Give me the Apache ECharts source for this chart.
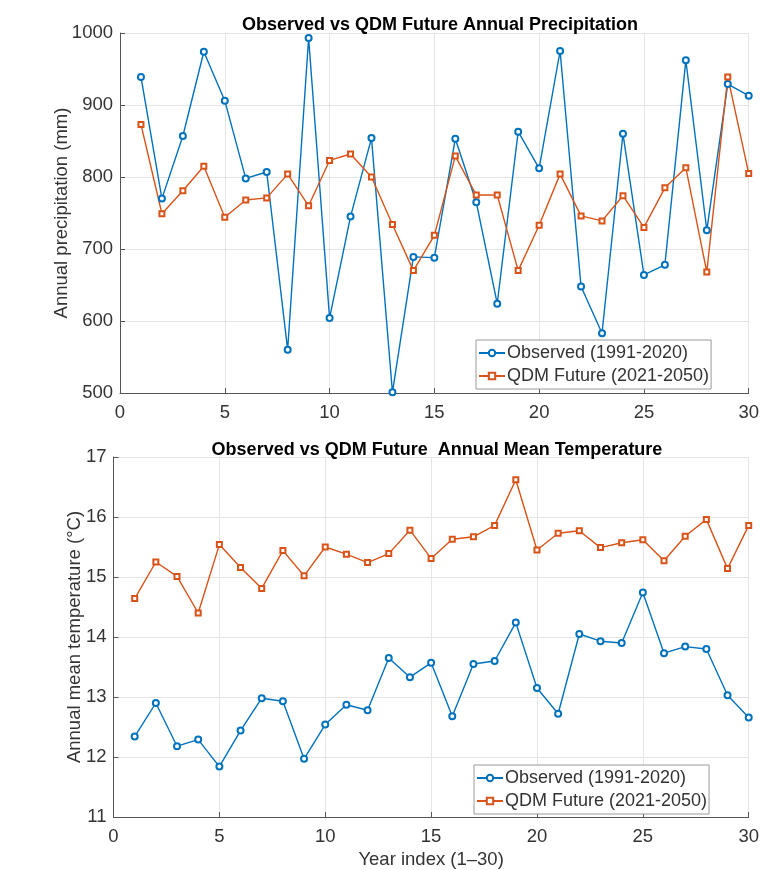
<!DOCTYPE html>
<html>
<head>
<meta charset="utf-8">
<script src="https://cdn.jsdelivr.net/npm/echarts@6/dist/echarts.min.js"></script>
<style>
  html, body { margin: 0; padding: 0; background: #fff; }
  #chart { width: 762px; height: 870px; }
</style>
</head>
<body>
<div id="chart"></div>
<script>
// Year index 1..30
const years = [1,2,3,4,5,6,7,8,9,10,11,12,13,14,15,16,17,18,19,20,21,22,23,24,25,26,27,28,29,30];

// Annual precipitation (mm)
const precipObserved = [939,770,857,974,906,798,807,560,993,604,745,854,501,689,688,853,765,624,863,812,975,648,583,860,664,678,962,726,929,913];
const precipFuture = [873,749,781,815,744,768,771,804,760,823,832,800,734,670,719,829,775,775,670,733,804,746,739,774,730,785,813,668,939,805];

// Annual mean temperature (°C)
const tempObserved = [12.34,12.90,12.18,12.29,11.84,12.44,12.98,12.93,11.97,12.54,12.87,12.78,13.65,13.33,13.57,12.68,13.55,13.60,14.24,13.15,12.72,14.05,13.93,13.90,14.74,13.73,13.84,13.80,13.03,12.66];
const tempFuture = [14.64,15.25,15.01,14.40,15.54,15.16,14.81,15.44,15.02,15.50,15.38,15.24,15.39,15.78,15.31,15.63,15.67,15.86,16.62,15.45,15.73,15.77,15.49,15.57,15.62,15.27,15.68,15.96,15.14,15.86];

const xTicks = { min: 0, max: 30, interval: 5 };
const precipTicks = { min: 500, max: 1000, interval: 100 };
const tempTicks = { min: 11, max: 17, interval: 1 };

const nameObs = 'Observed (1991-2020)';
const nameFut = 'QDM Future (2021-2050)';

const BLUE = '#0072BD';
const ORANGE = '#D95319';
const FONT = '"Liberation Sans", Arial, Helvetica, sans-serif';
const AXIS_COLOR = '#555555';
const TEXT_COLOR = '#333333';

const pairs = (ys) => years.map((x, i) => [x, ys[i]]);
const plainNumber = (v) => String(v);

function xAxisCfg(gridIndex, name) {
  return {
    type: 'value', gridIndex,
    min: xTicks.min, max: xTicks.max, interval: xTicks.interval,
    name: name || '', nameLocation: 'middle', nameGap: 33, nameMoveOverlap: false,
    nameTextStyle: { fontFamily: FONT, fontSize: 18.5, color: TEXT_COLOR },
    axisLine: { show: true, onZero: false, lineStyle: { color: AXIS_COLOR, width: 1 } },
    axisTick: { show: true, inside: true, length: 5, lineStyle: { color: AXIS_COLOR } },
    axisLabel: { fontFamily: FONT, fontSize: 18.5, color: TEXT_COLOR, margin: 10, formatter: plainNumber },
    splitLine: { show: true, lineStyle: { color: '#e4e4e4', width: 1 } }
  };
}

function yAxisCfg(gridIndex, ticks, name, gap) {
  return {
    type: 'value', gridIndex,
    min: ticks.min, max: ticks.max, interval: ticks.interval,
    name, nameLocation: 'middle', nameGap: gap, nameMoveOverlap: false,
    nameTextStyle: { fontFamily: FONT, fontSize: 18.5, color: TEXT_COLOR },
    axisLine: { show: true, onZero: false, lineStyle: { color: AXIS_COLOR, width: 1 } },
    axisTick: { show: true, inside: true, length: 5, lineStyle: { color: AXIS_COLOR } },
    axisLabel: { fontFamily: FONT, fontSize: 18.5, color: TEXT_COLOR, margin: 7, formatter: plainNumber },
    splitLine: { show: true, lineStyle: { color: '#e4e4e4', width: 1 } }
  };
}

function lineSeries(name, data, idx, color, symbol, size) {
  return {
    name, type: 'line', data,
    xAxisIndex: idx, yAxisIndex: idx,
    symbol, symbolSize: size, showAllSymbol: true,
    lineStyle: { color, width: 1.4 },
    itemStyle: { color, borderColor: color, borderWidth: 1.2 },
    emphasis: { disabled: true },
    animation: false
  };
}

function legendCfg(left, top) {
  return {
    orient: 'vertical', left, top,
    data: [nameObs, nameFut],
    backgroundColor: '#fff',
    borderColor: '#9a9a9a', borderWidth: 1,
    padding: [4, 2, 4, 2],
    itemGap: 5, itemWidth: 26, itemHeight: 8,
    textStyle: { fontFamily: FONT, fontSize: 18, color: TEXT_COLOR, padding: [0, 0, 0, -3] },
    selectedMode: false
  };
}

const chart = echarts.init(document.getElementById('chart'), null, { renderer: 'canvas' });
chart.setOption({
  backgroundColor: '#fff',
  animation: false,
  title: [
    { text: 'Observed vs QDM Future Annual Precipitation', left: 435, top: 11, textAlign: 'center',
      textStyle: { fontFamily: FONT, fontSize: 18, fontWeight: 'bold', color: '#000' } },
    { text: 'Observed vs QDM Future  Annual Mean Temperature', left: 432, top: 436, textAlign: 'center',
      textStyle: { fontFamily: FONT, fontSize: 18, fontWeight: 'bold', color: '#000' } }
  ],
  grid: [
    { left: 120, top: 33, width: 630, height: 360 },
    { left: 113.5, top: 457, width: 636.5, height: 361 }
  ],
  xAxis: [xAxisCfg(0), xAxisCfg(1, 'Year index (1–30)')],
  yAxis: [
    yAxisCfg(0, precipTicks, 'Annual precipitation (mm)', 49),
    yAxisCfg(1, tempTicks, 'Annual mean temperature (°C)', 29)
  ],
  legend: [legendCfg(476, 340), legendCfg(474, 765)],
  series: [
    lineSeries(nameObs, pairs(precipObserved), 0, BLUE, 'emptyCircle', 6),
    lineSeries(nameFut, pairs(precipFuture), 0, ORANGE, 'emptyRect', 5),
    lineSeries(nameObs, pairs(tempObserved), 1, BLUE, 'emptyCircle', 6),
    lineSeries(nameFut, pairs(tempFuture), 1, ORANGE, 'emptyRect', 5)
  ]
});
</script>
</body>
</html>
